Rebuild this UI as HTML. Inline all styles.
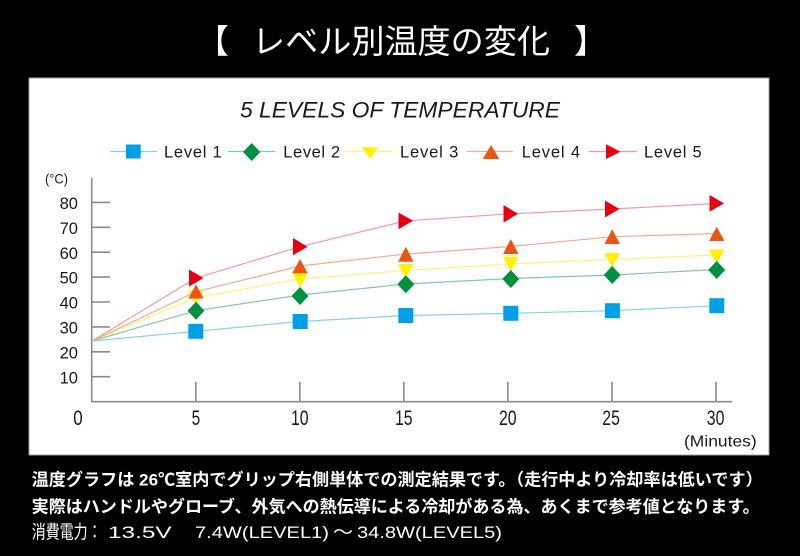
<!DOCTYPE html>
<html>
<head>
<meta charset="utf-8">
<style>
html,body{margin:0;padding:0;background:#000;}
body{width:800px;height:556px;overflow:hidden;}
svg{display:block;}
</style>
</head>
<body>
<svg width="800" height="556" viewBox="0 0 800 556" xmlns="http://www.w3.org/2000/svg">
<rect x="0" y="0" width="800" height="556" fill="#000"/>
<!-- Title -->
<g font-family="'Liberation Sans','Noto Sans CJK JP',sans-serif" fill="#fff" font-size="33">
<text x="196" y="53">【</text>
<text x="252" y="53" textLength="298" lengthAdjust="spacingAndGlyphs">レベル別温度の変化</text>
<text x="574" y="53">】</text>
</g>
<!-- Panel -->
<rect x="29" y="78" width="740" height="377" fill="#fff" stroke="#a0a0a0" stroke-width="1"/>
<!-- Chart title -->
<text x="240" y="117.5" font-family="'Liberation Sans',sans-serif" font-style="italic" font-size="22" fill="#1a1a1a" textLength="320" lengthAdjust="spacingAndGlyphs">5 LEVELS OF TEMPERATURE</text>
<!-- Legend -->
<g stroke-width="1.2">
<line x1="110" y1="151.5" x2="157" y2="151.5" stroke="#86cff0"/>
<rect x="126" y="144.5" width="14.7" height="14" fill="#00a0e9"/>
<line x1="228" y1="151.5" x2="275" y2="151.5" stroke="#80c9a2"/>
<path d="M251.7 143 L260.4 152 L251.7 161 L243 152 Z" fill="#009140"/>
<line x1="345" y1="151.5" x2="393" y2="151.5" stroke="#fff27a"/>
<path d="M361.7 147.3 L378.3 147.3 L370 158.5 Z" fill="#fff100"/>
<line x1="467" y1="151.5" x2="513" y2="151.5" stroke="#f5ab8d"/>
<path d="M491 145 L499.3 159 L482.7 159 Z" fill="#ea5514"/>
<line x1="589" y1="151.5" x2="637" y2="151.5" stroke="#f29aa3"/>
<path d="M606 144.3 L620.5 151.7 L606 159 Z" fill="#e60012"/>
</g>
<g font-family="'Liberation Sans',sans-serif" font-size="16.5" fill="#1a1a1a">
<text x="164" y="157.7" textLength="57.7" lengthAdjust="spacing">Level 1</text>
<text x="283.3" y="157.7" textLength="56.7" lengthAdjust="spacing">Level 2</text>
<text x="400" y="157.7" textLength="58.3" lengthAdjust="spacing">Level 3</text>
<text x="521.7" y="157.7" textLength="58.3" lengthAdjust="spacing">Level 4</text>
<text x="644" y="157.7" textLength="57.7" lengthAdjust="spacing">Level 5</text>
</g>
<!-- Axes -->
<g stroke="#8a8a8a" stroke-width="1.6" fill="none">
<line x1="91.7" y1="178" x2="91.7" y2="402.4"/>
<line x1="91" y1="401.7" x2="732.3" y2="401.7"/>
<line x1="91.7" y1="202.4" x2="110" y2="202.4"/>
<line x1="91.7" y1="227.3" x2="110" y2="227.3"/>
<line x1="91.7" y1="252.2" x2="110" y2="252.2"/>
<line x1="91.7" y1="277.1" x2="110" y2="277.1"/>
<line x1="91.7" y1="302" x2="110" y2="302"/>
<line x1="91.7" y1="326.9" x2="110" y2="326.9"/>
<line x1="91.7" y1="351.8" x2="110" y2="351.8"/>
<line x1="91.7" y1="376.7" x2="110" y2="376.7"/>
<line x1="195.8" y1="381.7" x2="195.8" y2="401.7"/>
<line x1="299.8" y1="381.7" x2="299.8" y2="401.7"/>
<line x1="403.8" y1="381.7" x2="403.8" y2="401.7"/>
<line x1="507.8" y1="381.7" x2="507.8" y2="401.7"/>
<line x1="612" y1="381.7" x2="612" y2="401.7"/>
<line x1="716" y1="381.7" x2="716" y2="401.7"/>
</g>
<!-- Y labels -->
<g font-family="'Liberation Sans',sans-serif" font-size="17" fill="#1a1a1a" text-anchor="end">
<text x="78" y="209" textLength="18.4" lengthAdjust="spacingAndGlyphs">80</text>
<text x="78" y="233.9" textLength="18.4" lengthAdjust="spacingAndGlyphs">70</text>
<text x="78" y="258.8" textLength="18.4" lengthAdjust="spacingAndGlyphs">60</text>
<text x="78" y="283.7" textLength="18.4" lengthAdjust="spacingAndGlyphs">50</text>
<text x="78" y="308.6" textLength="18.4" lengthAdjust="spacingAndGlyphs">40</text>
<text x="78" y="333.5" textLength="18.4" lengthAdjust="spacingAndGlyphs">30</text>
<text x="78" y="358.4" textLength="18.4" lengthAdjust="spacingAndGlyphs">20</text>
<text x="78" y="383.3" textLength="18.4" lengthAdjust="spacingAndGlyphs">10</text>
</g>
<text x="45" y="183.5" font-family="'Liberation Sans',sans-serif" font-size="14" fill="#1a1a1a" textLength="23" lengthAdjust="spacingAndGlyphs">(°C)</text>
<!-- X labels -->
<g font-family="'Liberation Sans',sans-serif" font-size="21" fill="#1a1a1a">
<text x="73.3" y="425" textLength="9.4" lengthAdjust="spacingAndGlyphs">0</text>
<text x="191.6" y="425" textLength="8.6" lengthAdjust="spacingAndGlyphs">5</text>
<text x="291" y="425" textLength="17.6" lengthAdjust="spacingAndGlyphs">10</text>
<text x="395" y="425" textLength="17.6" lengthAdjust="spacingAndGlyphs">15</text>
<text x="499" y="425" textLength="17.6" lengthAdjust="spacingAndGlyphs">20</text>
<text x="602.3" y="425" textLength="17.6" lengthAdjust="spacingAndGlyphs">25</text>
<text x="706.8" y="425" textLength="17.6" lengthAdjust="spacingAndGlyphs">30</text>
</g>
<text x="684" y="446.5" font-family="'Liberation Sans',sans-serif" font-size="16" fill="#1a1a1a" textLength="72.7" lengthAdjust="spacingAndGlyphs">(Minutes)</text>
<!-- Series lines -->
<g fill="none" stroke-width="1.2">
<polyline stroke="#86cff0" points="92,341 196,331.3 300,321.5 405.8,315.5 510.8,313.3 612.2,310.7 716.7,305.7"/>
<polyline stroke="#80c9a2" points="92,341 196,310.7 300,295 405.8,284 510.8,278.5 612.2,275 716.7,269.5"/>
<polyline stroke="#fff27a" points="92,341 196,297.5 300,279 405.8,270.5 510.8,264 612.2,259.5 716.7,255"/>
<polyline stroke="#f5ab8d" points="92,341 196,291.7 300,266 405.8,254 510.8,246.5 612.2,236.7 716.7,233.5"/>
<polyline stroke="#f29aa3" points="92,341 196,278 300,246.7 405.8,220.8 510.8,213.8 612.2,209 716.7,203.5"/>
</g>
<!-- Level 1 squares -->
<g fill="#00a0e9">
<rect x="188.3" y="323.8" width="15" height="15"/>
<rect x="292.7" y="314" width="15" height="15"/>
<rect x="398.3" y="308" width="15" height="15"/>
<rect x="503.3" y="305.8" width="15" height="15"/>
<rect x="604.9" y="303.2" width="15" height="15"/>
<rect x="709.3" y="298.2" width="15" height="15"/>
</g>
<!-- Level 3 inverted triangles -->
<g fill="#fff100">
<path d="M188.3 290.5 L203.6 290.5 L196 305 Z"/>
<path d="M292.3 273 L307.6 273 L300 287.5 Z"/>
<path d="M398.1 264 L413.4 264 L405.8 278.5 Z"/>
<path d="M503.1 256.7 L518.4 256.7 L510.8 271.5 Z"/>
<path d="M604.5 253 L619.8 253 L612.2 267.5 Z"/>
<path d="M709 249.5 L724.3 249.5 L716.7 264 Z"/>
</g>
<!-- Level 2 diamonds -->
<g fill="#009140">
<path d="M196 301.7 L204.5 310.7 L196 319.7 L187.5 310.7 Z"/>
<path d="M300 287 L308.5 296 L300 305 L291.5 296 Z"/>
<path d="M405.8 275.3 L414.3 284.3 L405.8 293.3 L397.3 284.3 Z"/>
<path d="M510.8 270 L519.3 279 L510.8 288 L502.3 279 Z"/>
<path d="M612.2 266 L620.7 275 L612.2 284 L603.7 275 Z"/>
<path d="M716.7 261 L725.2 270 L716.7 279 L708.2 270 Z"/>
</g>
<!-- Level 4 triangles -->
<g fill="#ea5514">
<path d="M196 284.5 L203.7 298.5 L188.3 298.5 Z"/>
<path d="M300 259 L307.7 273.3 L292.3 273.3 Z"/>
<path d="M405.8 246.7 L413.5 261.7 L398.1 261.7 Z"/>
<path d="M510.8 239 L518.5 254 L503.1 254 Z"/>
<path d="M612.2 229.3 L619.9 244 L604.5 244 Z"/>
<path d="M716.7 226.7 L724.4 241 L709 241 Z"/>
</g>
<!-- Level 5 right triangles -->
<g fill="#e60012">
<path d="M189 269.5 L203.5 278 L189 286.5 Z"/>
<path d="M293 238 L307.5 246.7 L293 255.3 Z"/>
<path d="M398.5 212.5 L413 220.8 L398.5 229.2 Z"/>
<path d="M503.5 205 L518 213.8 L503.5 222.6 Z"/>
<path d="M605 200.6 L619.5 209 L605 217.4 Z"/>
<path d="M709.5 195 L724 203.4 L709.5 211.8 Z"/>
</g>
<!-- Bottom text -->
<g font-family="'Liberation Sans','Noto Sans CJK JP',sans-serif" fill="#fff" font-size="17">
<text x="31.7" y="485.5" font-weight="bold" textLength="731" lengthAdjust="spacingAndGlyphs">温度グラフは 26℃室内でグリップ右側単体での測定結果です。（走行中より冷却率は低いです）</text>
<text x="31.7" y="512.5" font-weight="bold" textLength="728" lengthAdjust="spacingAndGlyphs">実際はハンドルやグローブ、外気への熱伝導による冷却がある為、あくまで参考値となります。</text>
<text x="31.7" y="538.5" font-size="18.5" textLength="70" lengthAdjust="spacingAndGlyphs">消費電力：</text>
<text x="108" y="538" textLength="63.7" lengthAdjust="spacingAndGlyphs">13.5V</text>
<text x="195" y="538" textLength="134" lengthAdjust="spacingAndGlyphs">7.4W(LEVEL1)</text>
<text x="333" y="538" textLength="20" lengthAdjust="spacingAndGlyphs">～</text>
<text x="357" y="538" textLength="145" lengthAdjust="spacingAndGlyphs">34.8W(LEVEL5)</text>
</g>
</svg>
</body>
</html>
